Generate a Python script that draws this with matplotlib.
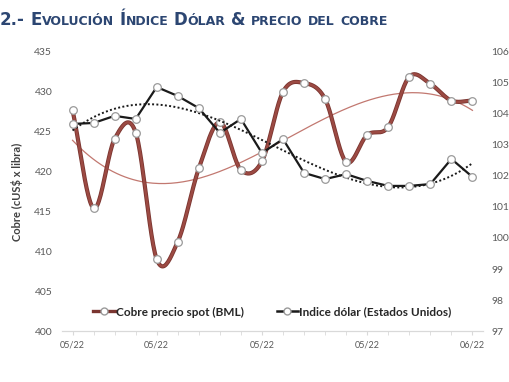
import matplotlib
matplotlib.use("Agg")
import matplotlib.pyplot as plt
import matplotlib.patheffects as pe
from matplotlib.offsetbox import TextArea, HPacker, AnchoredOffsetbox
import numpy as np

# Datos (20 observaciones diarias)
cobre = [427.7, 415.4, 424.1, 424.9, 409.0, 411.2, 420.4, 426.2, 420.2, 421.3,
         430.0, 431.1, 429.1, 421.2, 424.6, 425.6, 431.9, 431.0, 428.9, 428.9]
dolar = [103.68, 103.71, 103.94, 103.84, 104.87, 104.58, 104.19, 103.39, 103.84, 102.74,
         103.19, 102.10, 101.90, 102.06, 101.84, 101.68, 101.68, 101.74, 102.55, 101.97]
etiquetas_x = ['05/22', '05/22', '05/22', '05/22', '06/22']
pos_etiquetas = [0, 4, 9, 14, 19]

x = np.arange(len(cobre))

GRIS = '#595959'
AZUL = '#2c4672'
ROJO = '#7a3530'


# Línea suavizada tipo Excel (Catmull-Rom entre los puntos)
def suavizar(xs, ys, n=24):
    xs = np.asarray(xs, float)
    ys = np.asarray(ys, float)
    px = np.concatenate([[2 * xs[0] - xs[1]], xs, [2 * xs[-1] - xs[-2]]])
    py = np.concatenate([[2 * ys[0] - ys[1]], ys, [2 * ys[-1] - ys[-2]]])
    ox, oy = [], []
    t = np.linspace(0, 1, n, endpoint=False)
    for i in range(1, len(px) - 2):
        for arr, out in ((px, ox), (py, oy)):
            p0, p1, p2, p3 = arr[i - 1], arr[i], arr[i + 1], arr[i + 2]
            out.extend(0.5 * ((2 * p1) + (-p0 + p2) * t
                              + (2 * p0 - 5 * p1 + 4 * p2 - p3) * t ** 2
                              + (-p0 + 3 * p1 - 3 * p2 + p3) * t ** 3))
    ox.append(xs[-1])
    oy.append(ys[-1])
    return np.array(ox), np.array(oy)


plt.rcParams['font.family'] = ['Lato', 'DejaVu Sans']
fig = plt.figure(figsize=(5.1, 3.82), dpi=100)
ax = fig.add_axes([0.1216, 0.1335, 0.8254, 0.7304])
ax2 = ax.twinx()

# Cobre: línea suave con borde oscuro
sx, sy = suavizar(x, cobre)
ax.plot(sx, sy, color='#9c4a43', lw=1.8, zorder=3,
        path_effects=[pe.Stroke(linewidth=3.0, foreground=ROJO), pe.Normal()])
ax.plot(x, cobre, ls='none', marker='o', ms=5.5, mfc='white', mec='#9a9a9a',
        mew=0.9, zorder=4)
# Tendencia polinómica del cobre
xf = np.linspace(0, len(cobre) - 1, 200)
ax.plot(xf, np.polyval(np.polyfit(x, cobre, 3), xf), color='#c27870', lw=0.9, zorder=2)

# Dólar
ax2.plot(x, dolar, color='#1a1a1a', lw=1.6, marker='o', ms=5.5, mfc='white',
         mec='#9a9a9a', mew=0.9, zorder=3)
ax2.plot(xf, np.polyval(np.polyfit(x, dolar, 3), xf), color='#1a1a1a', lw=1.4,
         ls=(0, (1, 1.2)), zorder=2)

ax.set_xlim(-0.5, len(cobre) - 0.5)
ax.set_ylim(400, 435)
ax2.set_ylim(97, 106)
ax.set_yticks(range(400, 436, 5))
ax2.set_yticks(range(97, 107))
ax.set_xticks(pos_etiquetas)
ax.set_xticklabels(etiquetas_x)
ax.set_xticks(x, minor=True)

for a in (ax, ax2):
    for s in ('top', 'left', 'right'):
        a.spines[s].set_visible(False)
    a.spines['bottom'].set_color('#d9d9d9')
ax.tick_params(axis='y', length=0, pad=7, labelsize=7.5, labelcolor=GRIS)
ax2.tick_params(axis='y', length=0, pad=6, labelsize=7.5, labelcolor=GRIS)
ax.tick_params(axis='x', which='both', length=3, color='#d9d9d9', pad=4,
               labelsize=6.5, labelcolor=GRIS)

ax.set_ylabel('Cobre (cUS$ x libra)', fontsize=8, fontweight='bold', color='#404040',
              labelpad=8)

# Leyenda
h1 = plt.Line2D([], [], color=ROJO, lw=2.4, marker='o', ms=5, mfc='white', mec='#9a9a9a')
h2 = plt.Line2D([], [], color='#1a1a1a', lw=1.8, marker='o', ms=5, mfc='white', mec='#9a9a9a')
ley = ax.legend([h1, h2], ['Cobre precio spot (BML)', 'Indice dólar (Estados Unidos)'],
                loc='center', bbox_to_anchor=(0.5, 0.068), ncol=2, frameon=False,
                handlelength=1.8, handletextpad=0.1, columnspacing=2.8,
                prop={'size': 8.5, 'weight': 'bold'})
for t in ley.get_texts():
    t.set_color('#262626')

# Título en versalitas
G = dict(color=AZUL, fontweight='bold', fontsize=12, family='DejaVu Sans')
P = dict(color=AZUL, fontweight='bold', fontsize=9, family='DejaVu Sans')
palabras = [[('2.-', G)], [('E', G), ('VOLUCIÓN', P)], [('Í', G), ('NDICE', P)],
            [('D', G), ('ÓLAR', P)], [('&', G)], [('PRECIO', P)], [('DEL', P)], [('COBRE', P)]]
cajas = []
for pal in palabras:
    cajas.append(HPacker(children=[TextArea(s, textprops=p) for s, p in pal],
                         align='baseline', pad=0, sep=0))
titulo = HPacker(children=cajas, align='baseline', pad=0, sep=4)
fig.add_artist(AnchoredOffsetbox(loc='lower left', child=titulo, pad=0, borderpad=0,
                                 frameon=False, bbox_to_anchor=(0.0, 1 - 29 / 382),
                                 bbox_transform=fig.transFigure))

fig.savefig('out.png', dpi=100, facecolor='white')
